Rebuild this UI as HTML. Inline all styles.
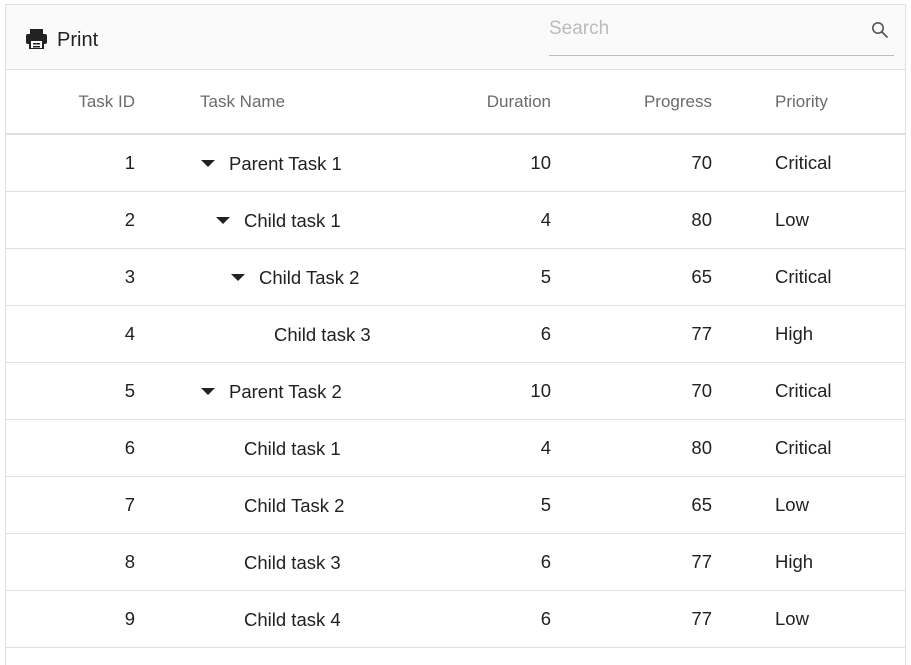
<!DOCTYPE html>
<html><head><style>
body{margin:0;width:911px;height:653px;background:#fff;font-family:"Liberation Sans",sans-serif;overflow:hidden;position:relative}
.box{position:absolute;left:5px;top:4px;width:899px;height:660px;border:1px solid #e0e0e0;border-bottom:none}
.tb{position:absolute;left:6px;top:5px;width:899px;height:64px;background:#fafafa;border-bottom:1px solid #e0e0e0}
.t{position:absolute;white-space:nowrap;line-height:20px}
.h{color:#6b6b6b;font-size:17px}
.c{color:#212121;font-size:18.5px}
.line{position:absolute;left:6px;width:899px;height:1px;background:#e0e0e0}
.arr{position:absolute;width:0;height:0;border-left:7px solid transparent;border-right:7px solid transparent;border-top:7px solid #222}
</style></head><body>
<div class="box"></div>
<div class="tb"></div>
<svg style="position:absolute;left:26px;top:29px" width="21" height="20" viewBox="0 0 21 20">
<rect x="4" y="0" width="13" height="5" fill="#222"/>
<rect x="0" y="5" width="21" height="10" rx="2" fill="#222"/>
<rect x="4" y="11" width="13" height="9" fill="#fff" stroke="#222" stroke-width="2"/>
<rect x="7" y="14" width="7" height="1.5" fill="#222"/><rect x="7" y="17" width="7" height="1.5" fill="#222"/>
</svg>
<div class="t" style="left:57px;top:30px;font-size:20px;color:#222">Print</div>
<div class="t" style="left:549px;top:19px;font-size:19px;color:#bbb">Search</div>
<div style="position:absolute;left:549px;top:55px;width:345px;height:1px;background:#bdbdbd"></div>
<svg style="position:absolute;left:871px;top:21px" width="18" height="18" viewBox="0 0 18 18"><circle cx="7" cy="7" r="5.2" fill="none" stroke="#555" stroke-width="1.6"/><line x1="11" y1="11" x2="16.5" y2="16.5" stroke="#555" stroke-width="1.8"/></svg>
<div class="line" style="top:133px;height:2px"></div>
<div class="t h" style="right:776px;top:92px">Task ID</div>
<div class="t h" style="left:200px;top:92px">Task Name</div>
<div class="t h" style="right:360px;top:92px">Duration</div>
<div class="t h" style="right:199px;top:92px">Progress</div>
<div class="t h" style="left:775px;top:92px">Priority</div>
<div id="rows"></div>
<script>
var d=[[1,'Parent Task 1',0,1,10,70,'Critical'],[2,'Child task 1',1,1,4,80,'Low'],[3,'Child Task 2',2,1,5,65,'Critical'],[4,'Child task 3',3,0,6,77,'High'],[5,'Parent Task 2',0,1,10,70,'Critical'],[6,'Child task 1',1,0,4,80,'Critical'],[7,'Child Task 2',1,0,5,65,'Low'],[8,'Child task 3',1,0,6,77,'High'],[9,'Child task 4',1,0,6,77,'Low']];
var h='';d.forEach(function(r,i){var y=153+57*i;
h+='<div class="t c" style="right:776px;top:'+y+'px">'+r[0]+'</div>';
if(r[3])h+='<div class="arr" style="left:'+(201+15*r[2])+'px;top:'+(y+7)+'px"></div>';
h+='<div class="t c" style="left:'+(229+15*r[2])+'px;top:'+(y+1)+'px">'+r[1]+'</div>';
h+='<div class="t c" style="right:360px;top:'+y+'px">'+r[4]+'</div>';
h+='<div class="t c" style="right:199px;top:'+y+'px">'+r[5]+'</div>';
h+='<div class="t c" style="left:775px;top:'+y+'px">'+r[6]+'</div>';
h+='<div class="line" style="top:'+(191+57*i)+'px"></div>';});
document.getElementById('rows').innerHTML=h;
</script>
</body></html>
